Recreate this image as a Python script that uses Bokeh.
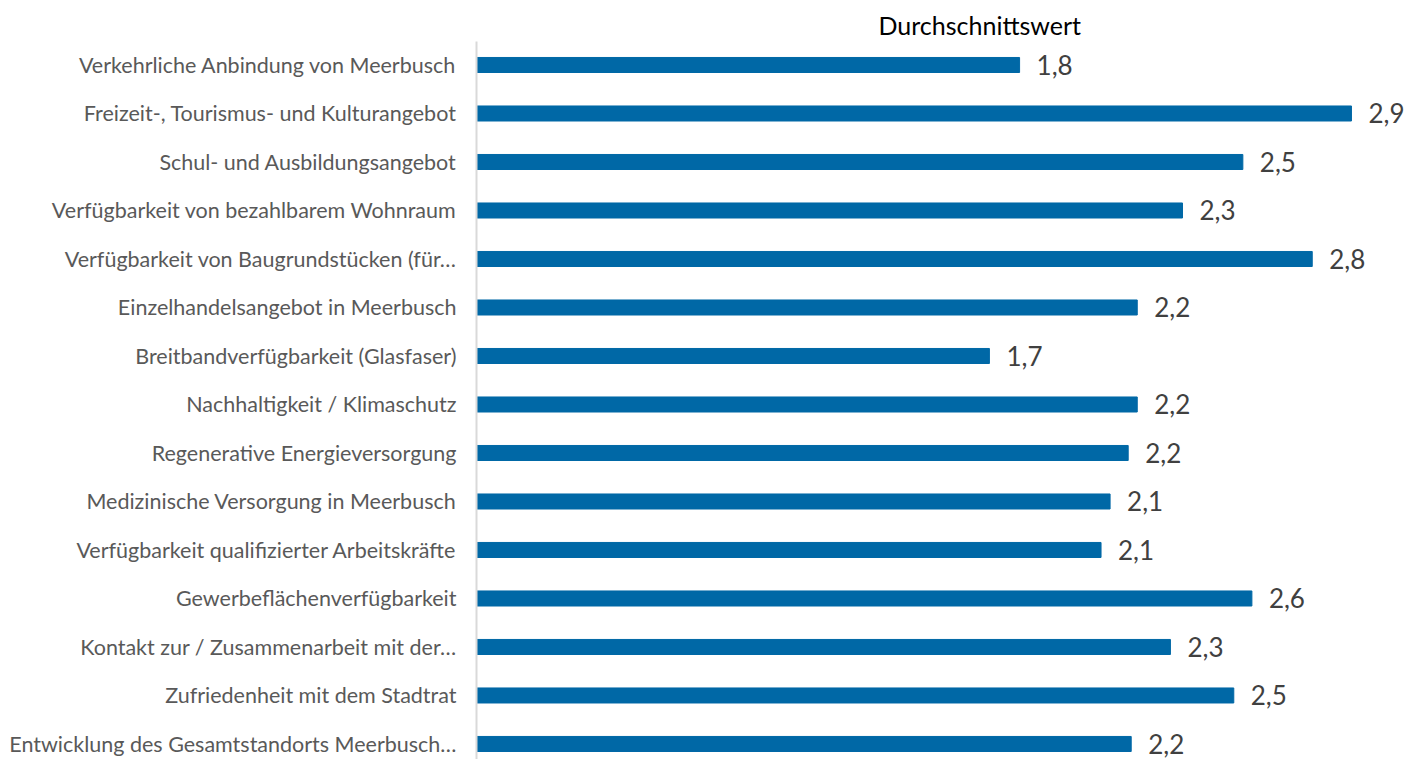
from bokeh.plotting import figure
from bokeh.models import ColumnDataSource, Range1d, FixedTicker, LabelSet, Title
from bokeh.core.properties import value
from bokeh.embed import file_html
from bokeh.resources import INLINE

categories = [
    "Verkehrliche Anbindung von Meerbusch",
    "Freizeit-, Tourismus- und Kulturangebot",
    "Schul- und Ausbildungsangebot",
    "Verfügbarkeit von bezahlbarem Wohnraum",
    "Verfügbarkeit von Baugrundstücken (für…",
    "Einzelhandelsangebot in Meerbusch",
    "Breitbandverfügbarkeit (Glasfaser)",
    "Nachhaltigkeit / Klimaschutz",
    "Regenerative Energieversorgung",
    "Medizinische Versorgung in Meerbusch",
    "Verfügbarkeit qualifizierter Arbeitskräfte",
    "Gewerbeflächenverfügbarkeit",
    "Kontakt zur / Zusammenarbeit mit der…",
    "Zufriedenheit mit dem Stadtrat",
    "Entwicklung des Gesamtstandorts Meerbusch…",
]
values = [1.80, 2.90, 2.54, 2.34, 2.77, 2.19, 1.70, 2.19, 2.16, 2.10, 2.07, 2.57, 2.30, 2.51, 2.17]
title_text = "Durchschnittswert"

idx = list(range(len(categories)))
labels = [f"{v:.1f}".replace(".", ",") for v in values]
src = ColumnDataSource(dict(y=idx, v=values, lab=labels))

FONT = "Lato"
p = figure(width=1411, height=759, output_backend="svg", toolbar_location=None,
           x_range=Range1d(0, 3.099), y_range=Range1d(14.32, -0.4845),
           x_axis_location=None, min_border_left=476, min_border_top=41,
           min_border_bottom=0, min_border_right=0)
p.outline_line_color = None
p.grid.visible = False
p.background_fill_color = "white"

p.hbar(y="y", right="v", left=0, height=0.31, source=src,
       fill_color="#0068A6", line_color="#0068A6")

vl = LabelSet(x="v", y="y", text="lab", source=src, x_offset=17, y_offset=0,
              text_baseline="middle", text_align="left",
              text_font=value(FONT), text_font_size="26px", text_color="#404040")
p.add_layout(vl)

ya = p.yaxis[0]
ya.ticker = FixedTicker(ticks=idx)
ya.major_label_overrides = {i: c for i, c in zip(idx, categories)}
ya.major_tick_line_color = None
ya.minor_tick_line_color = None
ya.major_tick_out = 0
ya.major_tick_in = 0
ya.major_label_standoff = 20
ya.axis_line_color = "#D9D9D9"
ya.axis_line_width = 2
ya.major_label_text_font = FONT
ya.major_label_text_font_size = "21.5px"
ya.major_label_text_color = "#595959"

p.title = Title(text=title_text, align="left", offset=402, standoff=4, text_font=FONT,
                text_font_size="25px", text_font_style="normal", text_color="#000000")

open("out.html", "w").write(file_html(p, INLINE))
